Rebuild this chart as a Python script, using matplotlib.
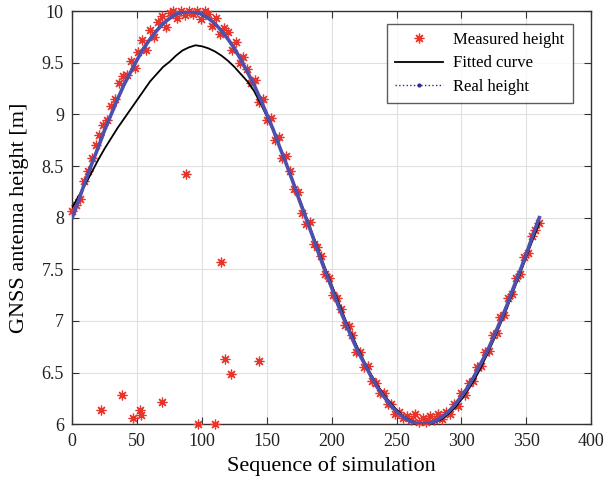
import numpy as np
import matplotlib.pyplot as plt
from matplotlib.lines import Line2D

plt.rcParams['font.family'] = ['Liberation Serif', 'DejaVu Serif']

# real height, read every 5 steps
real_x = np.arange(0, 361, 5)
real_y = [8.00, 8.17, 8.35, 8.52, 8.68, 8.85, 9.00, 9.15, 9.29, 9.41,
          9.53, 9.64, 9.73, 9.81, 9.88, 9.93, 9.97, 9.99, 10.00, 9.99,
          9.97, 9.93, 9.88, 9.81, 9.73, 9.64, 9.53, 9.41, 9.29, 9.15,
          9.00, 8.85, 8.68, 8.52, 8.35, 8.17, 8.00, 7.83, 7.65, 7.48,
          7.32, 7.15, 7.00, 6.85, 6.71, 6.59, 6.47, 6.36, 6.27, 6.19,
          6.12, 6.07, 6.03, 6.01, 6.00, 6.01, 6.03, 6.07, 6.12, 6.19,
          6.27, 6.36, 6.47, 6.59, 6.71, 6.85, 7.00, 7.15, 7.32, 7.48,
          7.65, 7.83, 8.00]

# fitted curve, read every 5 steps
fit_x = np.arange(0, 361, 5)
fit_y = [8.10, 8.21, 8.32, 8.44, 8.56, 8.67, 8.77, 8.87, 8.96, 9.05,
         9.14, 9.23, 9.32, 9.39, 9.46, 9.51, 9.57, 9.62, 9.65, 9.67,
         9.66, 9.64, 9.61, 9.57, 9.52, 9.46, 9.39, 9.32, 9.23, 9.11,
         8.98, 8.84, 8.68, 8.52, 8.36, 8.19, 8.02, 7.85, 7.68, 7.51,
         7.35, 7.19, 7.03, 6.88, 6.74, 6.61, 6.49, 6.38, 6.29, 6.21,
         6.14, 6.08, 6.04, 6.01, 6.00, 6.00, 6.02, 6.05, 6.10, 6.16,
         6.24, 6.33, 6.43, 6.55, 6.68, 6.82, 6.97, 7.12, 7.29, 7.45,
         7.62, 7.79, 7.95]

# measured height (every 3rd sample)
meas_x = np.arange(0, 361, 3)
meas_y = [8.06, 8.12, 8.18, 8.36, 8.45, 8.58, 8.70, 8.80, 8.90, 8.95,
          9.08, 9.15, 9.30, 9.37, 9.38, 9.52, 9.45, 9.60, 9.72, 9.62,
          9.82, 9.75, 9.90, 9.95, 9.85, 9.98, 10.00, 9.93, 10.00, 9.96,
          10.00, 9.97, 10.00, 9.92, 10.00, 9.97, 9.86, 9.93, 9.78, 9.84,
          9.80, 9.62, 9.70, 9.50, 9.56, 9.44, 9.30, 9.33, 9.12, 9.15,
          8.95, 8.97, 8.75, 8.78, 8.58, 8.60, 8.45, 8.28, 8.25, 8.05,
          7.94, 7.96, 7.75, 7.72, 7.63, 7.45, 7.42, 7.25, 7.22, 7.12,
          6.96, 6.95, 6.86, 6.70, 6.70, 6.55, 6.56, 6.42, 6.40, 6.30,
          6.30, 6.20, 6.20, 6.10, 6.12, 6.06, 6.08, 6.04, 6.10, 6.02,
          6.06, 6.02, 6.08, 6.04, 6.10, 6.05, 6.12, 6.10, 6.20, 6.18,
          6.30, 6.28, 6.40, 6.42, 6.55, 6.56, 6.70, 6.71, 6.86, 6.88,
          7.04, 7.06, 7.22, 7.26, 7.42, 7.45, 7.62, 7.66, 7.82, 7.88,
          7.95]

# outliers
out_x = [22, 38, 47, 52, 53, 69, 88, 97, 110, 115, 118, 122, 144]
out_y = [6.14, 6.28, 6.06, 6.14, 6.09, 6.21, 8.42, 6.00, 6.00, 7.57, 6.63, 6.49, 6.61]

fig = plt.figure(figsize=(6.07, 4.87), dpi=100)
ax = fig.add_axes([0.119, 0.129, 0.855, 0.848])

red = '#e8352b'
star = (8, 2, 0)
ax.plot(list(meas_x) + out_x, meas_y + out_y, linestyle='none', marker=star,
        markersize=7, markeredgewidth=0.9, color=red, clip_on=False,
        label='Measured height', zorder=3)
ax.plot(fit_x, fit_y, color='black', linewidth=1.3, label='Fitted curve', zorder=4)
ax.plot(real_x, real_y, color='#4f4fae', linewidth=2.6, zorder=5)

# legend
h1, l1 = ax.get_legend_handles_labels()
h1.append(Line2D([], [], color='#2a2a90', linestyle=':', linewidth=1,
                 marker='.', markersize=4, markevery=[1]))
l1.append('Real height')
leg = ax.legend(h1, l1, loc='upper right', bbox_to_anchor=(0.965, 0.97),
                fontsize=12, frameon=True, fancybox=False, edgecolor='#333333',
                handlelength=2.9, borderpad=0.5, labelspacing=0.45,
                handletextpad=0.6, borderaxespad=0)
leg.get_frame().set_linewidth(1.0)

ax.set_xlim(0, 400)
ax.set_ylim(6, 10)
ax.set_xticks(np.arange(0, 401, 50))
ax.set_yticks(np.arange(6, 10.01, 0.5))
ax.set_yticklabels(['6', '6.5', '7', '7.5', '8', '8.5', '9', '9.5', '10'])
ax.grid(True, color='#e0e0e0', linewidth=0.8)
ax.set_axisbelow(True)
ax.tick_params(direction='in', top=True, right=True, labelsize=13, length=5,
               pad=6, colors='#333333', labelcolor='#222222')
for s in ax.spines.values():
    s.set_color('#333333')
    s.set_linewidth(1.0)

ax.set_xlabel('Sequence of simulation', fontsize=16, labelpad=5)
ax.set_ylabel('GNSS antenna height [m]', fontsize=16, labelpad=9)

fig.savefig('out.png', dpi=100)
